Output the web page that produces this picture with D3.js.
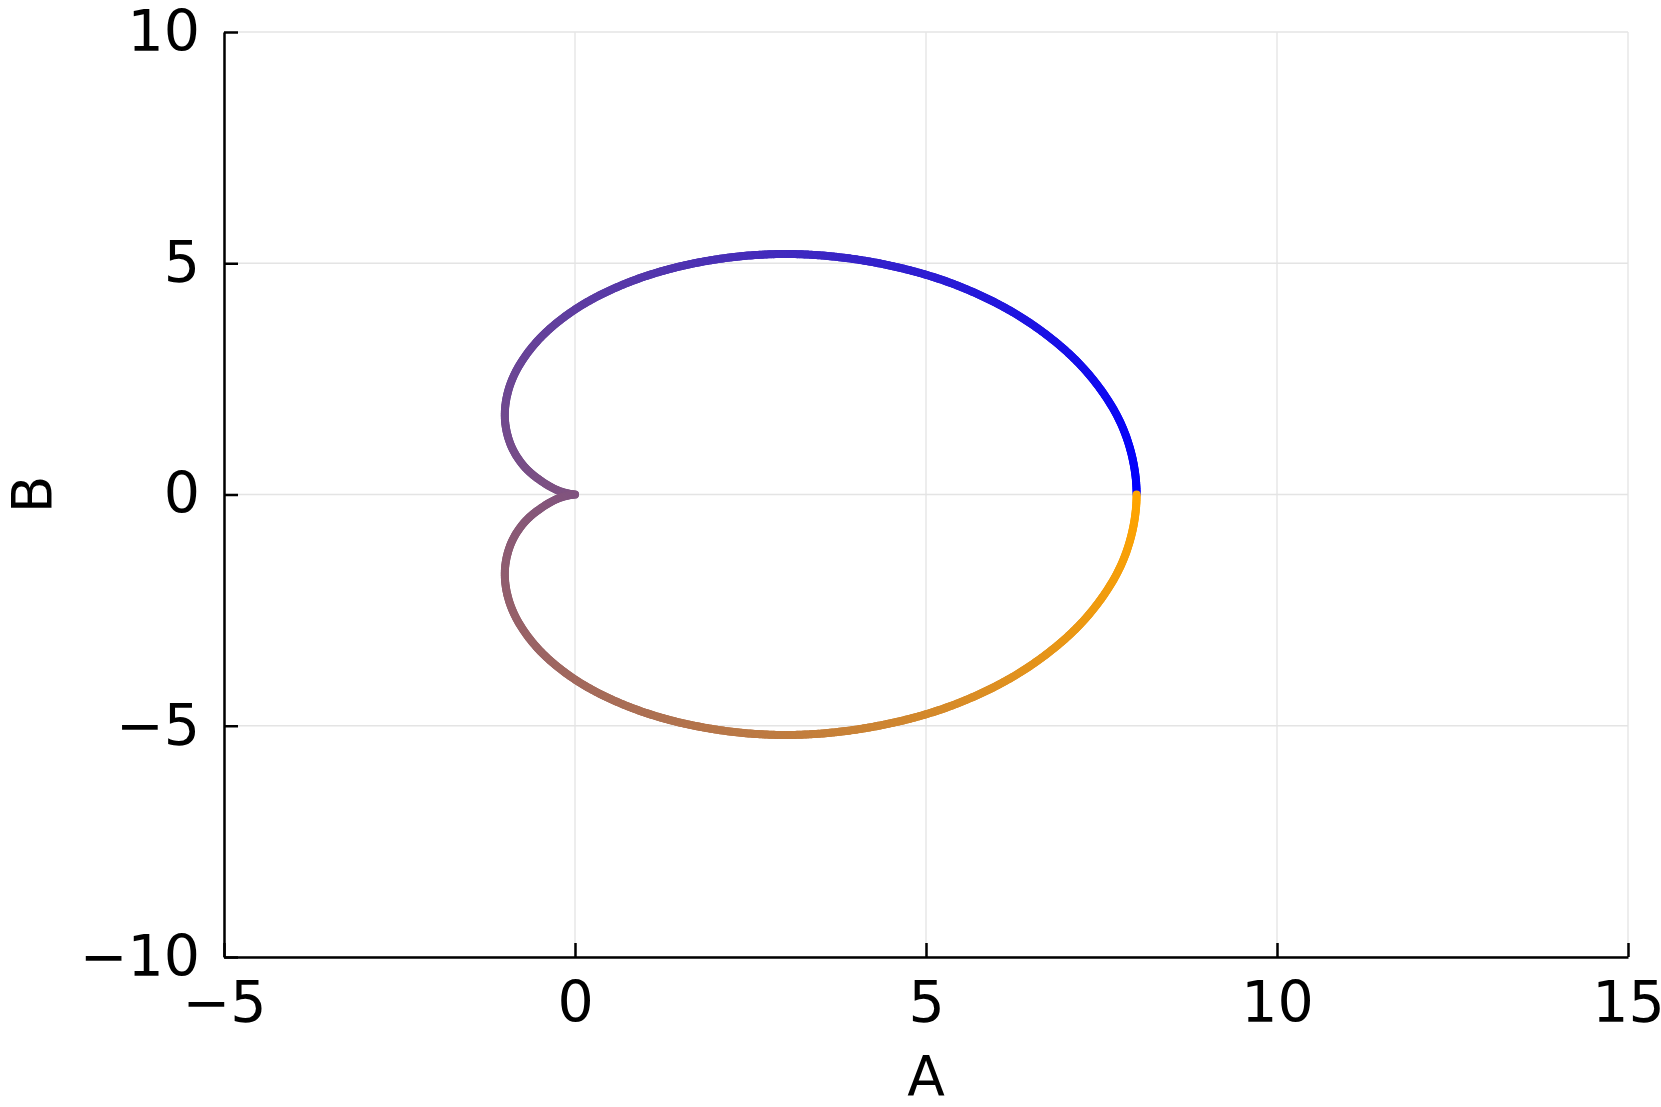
<html>
<head>
<meta charset="utf-8">
<script src="https://d3js.org/d3.v7.min.js"></script>
<style>
  body { margin: 0; background: #fff; }
  text { font-family: "DejaVu Sans", sans-serif; fill: #000; }
  .axis path, .axis line { stroke: #000; stroke-width: 2.5; }
  .grid line { stroke: #e4e4e4; stroke-width: 1.3; }
</style>
</head>
<body onload="init()">
<svg width="1661" height="1107"></svg>
<script>
// curve points (A, B), going round from (8, 0)
var curveA = [8.00, 7.82, 7.29, 6.46, 5.41, 4.22, 3.00, 1.84, 0.82, 0.00, -0.57, -0.90, -1.00, -0.92, -0.72, -0.46, -0.23, -0.06, 0.00,
              -0.06, -0.23, -0.46, -0.72, -0.92, -1.00, -0.90, -0.57, 0.00, 0.82, 1.84, 3.00, 4.22, 5.41, 6.46, 7.29, 7.82];
var curveB = [0.00, 1.38, 2.65, 3.73, 4.54, 5.03, 5.20, 5.04, 4.62, 4.00, 3.26, 2.47, 1.73, 1.09, 0.60, 0.27, 0.08, 0.01, 0.00,
              -0.01, -0.08, -0.27, -0.60, -1.09, -1.73, -2.47, -3.26, -4.00, -4.62, -5.04, -5.20, -5.03, -4.54, -3.73, -2.65, -1.38];
var xTicks = [-5, 0, 5, 10, 15];
var yTicks = [-10, -5, 0, 5, 10];
var xLabel = "A";
var yLabel = "B";
var colorStart = "#0000ff";
var colorEnd = "#ffa500";

function init() {
  var left = 224, right = 1628, top = 32, bottom = 957;
  var svg = d3.select("svg");

  var x = d3.scaleLinear().domain([-5, 15]).range([left, right]);
  var y = d3.scaleLinear().domain([-10, 10]).range([bottom, top]);

  // grid
  var grid = svg.append("g").attr("class", "grid");
  grid.selectAll(".gx").data(xTicks).enter().append("line")
    .attr("x1", function (d) { return x(d); }).attr("x2", function (d) { return x(d); })
    .attr("y1", top).attr("y2", bottom);
  grid.selectAll(".gy").data(yTicks).enter().append("line")
    .attr("y1", function (d) { return y(d); }).attr("y2", function (d) { return y(d); })
    .attr("x1", left).attr("x2", right);

  // closed smooth loop; the closed curve starts at its 2nd point, so put the last point first
  var pts = curveA.map(function (a, i) { return [a, curveB[i]]; });
  var loop = [pts[pts.length - 1]].concat(pts.slice(0, pts.length - 1));
  var line = d3.line()
    .x(function (d) { return x(d[0]); })
    .y(function (d) { return y(d[1]); })
    .curve(d3.curveCatmullRomClosed.alpha(0.5));
  var guide = svg.append("path").attr("d", line(loop)).attr("fill", "none").attr("stroke", "none");
  var node = guide.node();
  var total = node.getTotalLength();
  var n = 800;
  var samples = [];
  for (var i = 0; i <= n; i++) {
    var p = node.getPointAtLength(total * i / n);
    samples.push([p.x, p.y]);
  }
  var color = d3.interpolateRgb(colorStart, colorEnd);
  var segs = d3.range(n);
  svg.append("g").selectAll("line").data(segs).enter().append("line")
    .attr("x1", function (i) { return samples[i][0]; })
    .attr("y1", function (i) { return samples[i][1]; })
    .attr("x2", function (i) { return samples[i + 1][0]; })
    .attr("y2", function (i) { return samples[i + 1][1]; })
    .attr("stroke", function (i) { return color((i + 0.5) / n); })
    .attr("stroke-width", 8)
    .attr("stroke-linecap", "round");

  // axes
  svg.append("g").attr("class", "axis")
    .attr("transform", "translate(0," + bottom + ")")
    .call(d3.axisBottom(x).tickValues(xTicks).tickSizeInner(-14).tickSizeOuter(0).tickPadding(25));
  svg.append("g").attr("class", "axis")
    .attr("transform", "translate(" + left + ",0)")
    .call(d3.axisLeft(y).tickValues(yTicks).tickSizeInner(-14).tickSizeOuter(0).tickPadding(24));
  svg.selectAll(".axis text").style("font-size", "57px").style("font-family", "DejaVu Sans");

  svg.append("text")
    .attr("x", (left + right) / 2).attr("y", 1095)
    .attr("text-anchor", "middle")
    .style("font-size", "55px")
    .text(xLabel);
  svg.append("text")
    .attr("transform", "translate(51," + ((top + bottom) / 2) + ") rotate(-90)")
    .attr("text-anchor", "middle")
    .style("font-size", "55px")
    .text(yLabel);
}
</script>
</body>
</html>
